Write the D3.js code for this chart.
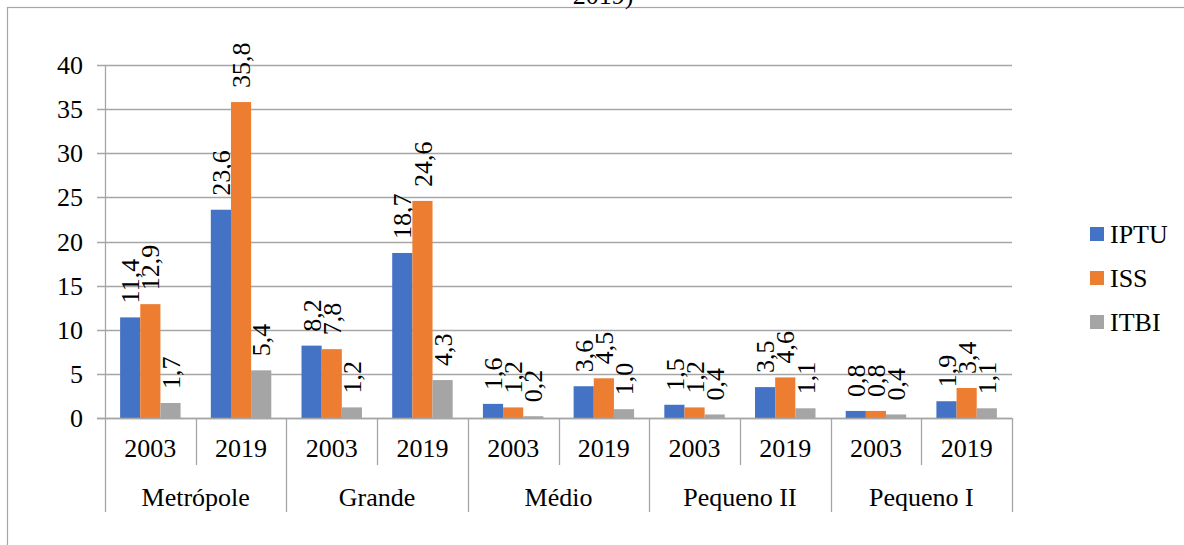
<!DOCTYPE html>
<html><head><meta charset="utf-8">
<script src="https://cdn.jsdelivr.net/npm/d3@7/dist/d3.min.js"></script>
<style>
html,body{margin:0;padding:0;background:#fff;}
svg{display:block;font-family:"Liberation Serif","Times New Roman",serif;}
</style></head>
<body>
<svg id="c" width="1184" height="545"></svg>
<script>
const groups = ["Metrópole","Grande","Médio","Pequeno II","Pequeno I"];
const years = ["2003","2019"];
const seriesNames = ["IPTU","ISS","ITBI"];
const iptu = [11.4, 23.6, 8.2, 18.7, 1.6, 3.6, 1.5, 3.5, 0.8, 1.9];
const iss  = [12.9, 35.8, 7.8, 24.6, 1.2, 4.5, 1.2, 4.6, 0.8, 3.4];
const itbi = [1.7, 5.4, 1.2, 4.3, 0.2, 1.0, 0.4, 1.1, 0.4, 1.1];
const yTicks = [0,5,10,15,20,25,30,35,40];
const colors = ["#4472C4","#ED7D31","#A5A5A5"];

(function(){
const svg = d3.select("#c");
const fs = 26;
const pL = 105, pR = 1012, pT = 65, pB = 418;

// frame
svg.append("rect").attr("x",7.5).attr("y",7.5).attr("width",1200).attr("height",600)
  .attr("fill","none").attr("stroke","#a6a6a6").attr("stroke-width",1.2);

// partial title (cut at top edge as in reference)
svg.append("text").attr("x",603).attr("y",4).attr("text-anchor","middle")
  .attr("font-size",fs).attr("fill","#000").text("2019)");

const cats = [];
groups.forEach(g => years.forEach(y => cats.push(g + "|" + y)));
const series = [iptu, iss, itbi];

const x0 = d3.scaleBand().domain(cats).range([pL, pR]).padding(0);
const bw = x0.bandwidth();
const x1 = d3.scaleBand().domain(seriesNames).range([bw*0.75/4.5, bw - bw*0.75/4.5]).padding(0);
const y = d3.scaleLinear().domain([0,40]).range([pB, pT]);

// gridlines
svg.append("g").selectAll("line").data(yTicks).join("line")
  .attr("x1", pL-8).attr("x2", pR)
  .attr("y1", d=>Math.round(y(d))+0.5).attr("y2", d=>Math.round(y(d))+0.5)
  .attr("stroke","#a6a6a6").attr("stroke-width",1.3);

// y axis line
svg.append("line").attr("x1",pL+0.5).attr("x2",pL+0.5).attr("y1",pT).attr("y2",pB)
  .attr("stroke","#a6a6a6").attr("stroke-width",1.3);

// y labels
svg.append("g").selectAll("text").data(yTicks).join("text")
  .attr("x", pL-22).attr("y", d=>y(d)).attr("dy","0.35em")
  .attr("text-anchor","end").attr("font-size",fs).attr("fill","#000").text(d=>d);

// bars
const fmt = v => v.toFixed(1).replace(".", ",");
series.forEach((vals, si) => {
  const g = svg.append("g");
  g.selectAll("rect").data(vals).join("rect")
    .attr("x", (d,i)=>x0(cats[i]) + x1(seriesNames[si]))
    .attr("width", x1.bandwidth())
    .attr("y", d=>y(d)).attr("height", d=>pB - y(d))
    .attr("fill", colors[si]);
  g.selectAll("text").data(vals).join("text")
    .attr("transform", (d,i)=>{
      const cx = x0(cats[i]) + x1(seriesNames[si]) + x1.bandwidth()/2;
      return `translate(${cx},${y(d)-14}) rotate(-90)`;
    })
    .attr("dy","0.35em").attr("text-anchor","start")
    .attr("font-size",fs).attr("fill","#000").text(d=>fmt(d));
});

// x axis line
svg.append("line").attr("x1",pL-8).attr("x2",pR).attr("y1",pB+0.5).attr("y2",pB+0.5)
  .attr("stroke","#a6a6a6").attr("stroke-width",1.3);

// year separators
const sepYears = [];
cats.forEach((c,i)=>{ if (i%2===1) sepYears.push(x0(c)); });
svg.append("g").selectAll("line").data(sepYears).join("line")
  .attr("x1",d=>Math.round(d)+0.5).attr("x2",d=>Math.round(d)+0.5).attr("y1",pB).attr("y2",465)
  .attr("stroke","#a6a6a6").attr("stroke-width",1.3);
// group separators
const sepGroups = groups.map((g,i)=>x0(cats[i*2])).concat([pR]);
svg.append("g").selectAll("line").data(sepGroups).join("line")
  .attr("x1",d=>Math.round(d)+0.5).attr("x2",d=>Math.round(d)+0.5).attr("y1",pB).attr("y2",512)
  .attr("stroke","#a6a6a6").attr("stroke-width",1.3);

// year labels
svg.append("g").selectAll("text").data(cats).join("text")
  .attr("x", d=>x0(d)+bw/2).attr("y",448).attr("dy","0.35em")
  .attr("text-anchor","middle").attr("font-size",fs).attr("fill","#000")
  .text(d=>d.split("|")[1]);
// group labels
svg.append("g").selectAll("text").data(groups).join("text")
  .attr("x", (d,i)=>x0(cats[i*2]) + bw).attr("y",497).attr("dy","0.35em")
  .attr("text-anchor","middle").attr("font-size",fs).attr("fill","#000").text(d=>d);

// legend
const lg = svg.append("g");
seriesNames.forEach((s,i)=>{
  const cy = 234 + i*44;
  lg.append("rect").attr("x",1090).attr("y",cy-7).attr("width",14).attr("height",14).attr("fill",colors[i]);
  lg.append("text").attr("x",1110).attr("y",cy).attr("dy","0.35em").attr("font-size",fs)
    .attr("fill","#000").text(s);
});
})();
</script>
</body></html>
